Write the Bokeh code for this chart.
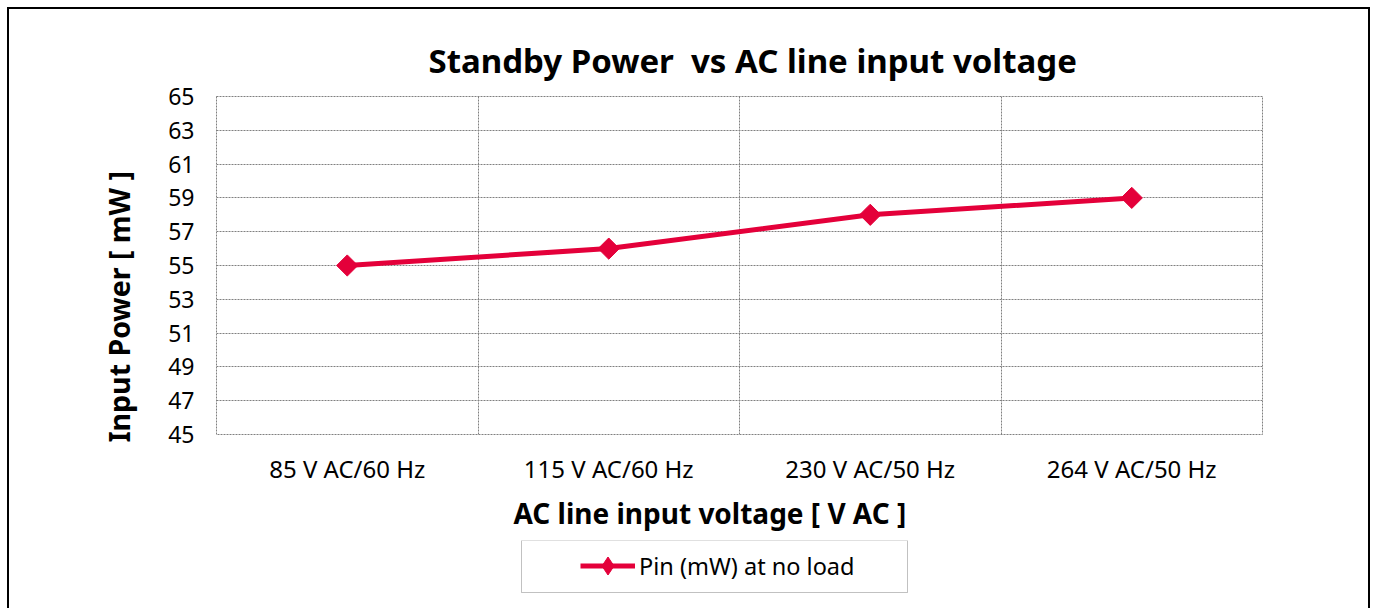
from bokeh.plotting import figure
from bokeh.layouts import column
from bokeh.models import (Range1d, FixedTicker, Legend, LegendItem, Title, BoxAnnotation)
from bokeh.embed import file_html
from bokeh.resources import INLINE
import math

categories = ["85 V AC/60 Hz", "115 V AC/60 Hz", "230 V AC/50 Hz", "264 V AC/50 Hz"]
pin_mw = [55, 56, 58, 59]
y_ticks = [45, 47, 49, 51, 53, 55, 57, 59, 61, 63, 65]
series_name = "Pin (mW) at no load"
title_text = "Standby Power\u00a0 vs AC line input voltage"
x_title = "AC line input voltage [ V AC ]"
y_title = "Input Power [ mW ]"

RED = "#E4003A"
FONT = "Noto Sans"
PAGE_W, PAGE_H = 1373, 608
MAIN_H = 540
FRAME_L, FRAME_R = 216, 1262

xs = [i + 0.5 for i in range(len(categories))]

# ---------------- main chart ----------------
p = figure(width=PAGE_W, height=MAIN_H, output_backend="svg", toolbar_location=None,
           x_range=Range1d(0, len(categories)), y_range=Range1d(y_ticks[0], y_ticks[-1]),
           min_border_left=FRAME_L, min_border_right=PAGE_W - FRAME_R,
           min_border_top=96, min_border_bottom=106)
p.border_fill_color = None
p.background_fill_color = "white"
p.outline_line_color = "#808080"
p.outline_line_dash = "2 1"
p.outline_line_width = 1

p.xaxis.ticker = FixedTicker(ticks=xs)
p.xaxis.major_label_overrides = {x: c for x, c in zip(xs, categories)}
p.yaxis.ticker = FixedTicker(ticks=y_ticks)
for ax in (p.xaxis[0], p.yaxis[0]):
    ax.axis_line_color = None
    ax.major_tick_line_color = None
    ax.minor_tick_line_color = None
    ax.major_tick_out = 0
    ax.major_tick_in = 0
    ax.major_label_text_font = FONT
    ax.major_label_text_font_size = "24px"
    ax.major_label_text_color = "#000000"
p.yaxis.major_label_text_font_size = "23px"
p.xaxis.major_label_standoff = 17
p.yaxis.major_label_standoff = 22

p.add_layout(Title(text=x_title, align="left", offset=297, standoff=9,
                   text_font=FONT, text_font_style="bold", text_font_size="28px",
                   text_color="#000000"), "below")
p.add_layout(Title(text=y_title, align="left", offset=-8, standoff=56,
                   text_font=FONT, text_font_style="bold", text_font_size="28.5px",
                   text_color="#000000"), "left")

p.xgrid.ticker = FixedTicker(ticks=list(range(len(categories) + 1)))
for g in (p.xgrid[0], p.ygrid[0]):
    g.grid_line_color = "#808080"
    g.grid_line_dash = "2 1"
    g.grid_line_width = 1

p.line(xs, pin_mw, line_color=RED, line_width=5)
p.scatter(xs, pin_mw, marker="square", angle=math.pi / 4, size=15,
          fill_color=RED, line_color=RED)

p.add_layout(Title(text=title_text, align="left", offset=212, standoff=28,
                   text_font=FONT, text_font_style="bold", text_font_size="33px",
                   text_color="#000000"), "above")

# ---------------- legend strip (frame is aligned with the main frame) ----------------
LEG_H = PAGE_H - MAIN_H
q = figure(width=PAGE_W, height=LEG_H, output_backend="svg", toolbar_location=None,
           x_range=Range1d(FRAME_L, FRAME_R), y_range=Range1d(PAGE_H, MAIN_H),
           x_axis_type=None, y_axis_type=None,
           min_border_left=FRAME_L, min_border_right=PAGE_W - FRAME_R,
           min_border_top=0, min_border_bottom=0)
q.border_fill_color = None
q.background_fill_color = None
q.outline_line_color = None
q.xgrid.visible = False
q.ygrid.visible = False
# same series drawn in this strip only to supply the legend glyph (falls outside its view)
lr = q.line(xs, pin_mw, line_color=RED, line_width=5)
sr = q.scatter(xs, pin_mw, marker="diamond", size=18,
               fill_color=RED, line_color=RED)
q.add_layout(BoxAnnotation(left=521, right=907, top=540, bottom=592,
                           fill_alpha=0, line_color="#333333", line_width=1))
legend = Legend(items=[LegendItem(label=series_name, renderers=[lr, sr])],
                location=(354, 10), orientation="horizontal",
                glyph_width=55, glyph_height=45, label_height=24, label_standoff=4,
                label_text_font=FONT, label_text_font_size="23.5px",
                label_text_color="#000000",
                padding=10, margin=0, border_line_alpha=0, background_fill_alpha=0)
q.add_layout(legend, "center")

page = column(p, q, spacing=0, styles={
    "background": ("linear-gradient(#000,#000) 7px 7px / 1363px 2px no-repeat, "
                   "linear-gradient(#000,#000) 7px 7px / 2px 620px no-repeat, "
                   "linear-gradient(#000,#000) 1368px 7px / 2px 620px no-repeat")})

open("out.html", "w").write(file_html(page, INLINE))
